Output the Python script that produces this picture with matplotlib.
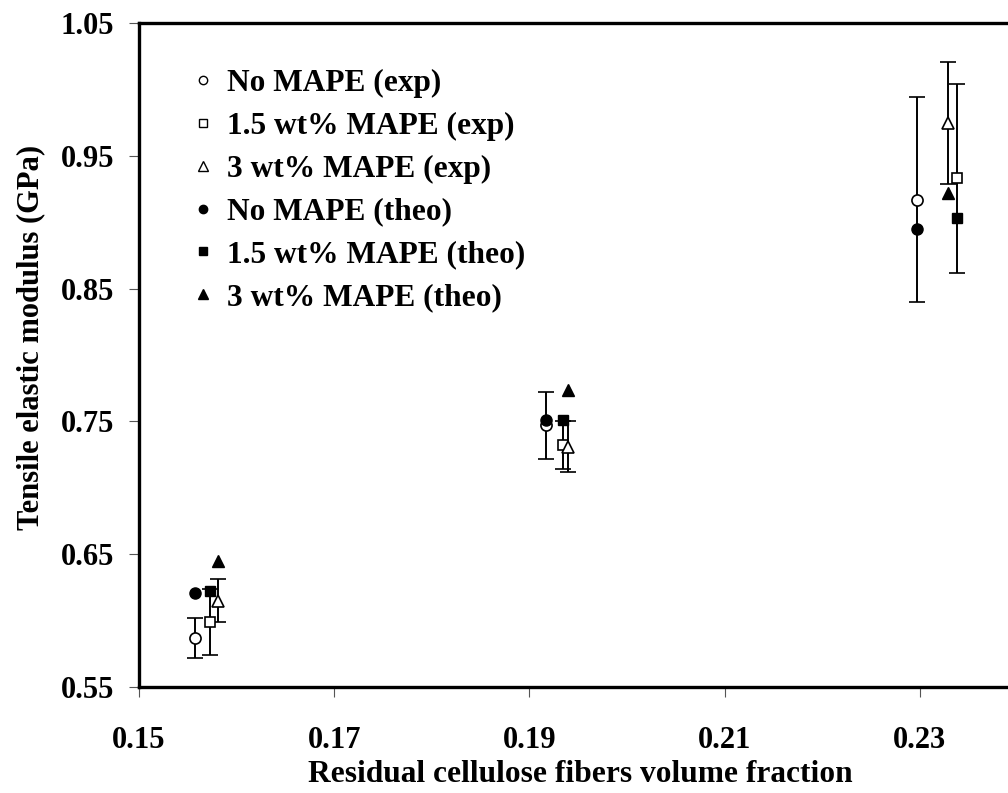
import matplotlib
matplotlib.use("Agg")
import matplotlib.pyplot as plt
from matplotlib.lines import Line2D

plt.rcParams['font.family'] = ['Liberation Serif', 'DejaVu Serif']
plt.rcParams['font.weight'] = 'bold'

# x positions (residual cellulose fibre volume fraction)
x_no = [0.1557, 0.1917, 0.2297]
x_15 = [0.1573, 0.1934, 0.2338]
x_3 = [0.1581, 0.1940, 0.2329]

# experimental values and error bars (GPa)
exp_no = [0.587, 0.747, 0.917]
err_no = [0.015, 0.025, 0.077]
exp_15 = [0.599, 0.732, 0.933]
err_15 = [0.025, 0.018, 0.071]
exp_3 = [0.615, 0.731, 0.975]
err_3 = [0.016, 0.019, 0.046]

# theoretical values (GPa)
theo_no = [0.621, 0.751, 0.895]
theo_15 = [0.622, 0.751, 0.903]
theo_3 = [0.645, 0.774, 0.922]

labels = ["No MAPE (exp)", "1.5 wt% MAPE (exp)", "3 wt% MAPE (exp)",
          "No MAPE (theo)", "1.5 wt% MAPE (theo)", "3 wt% MAPE (theo)"]
xticks = [0.15, 0.17, 0.19, 0.21, 0.23]
yticks = [0.55, 0.65, 0.75, 0.85, 0.95, 1.05]

W, H = 1008, 793
fig = plt.figure(figsize=(W / 100, H / 100), dpi=100)
left, right, top, bottom = 139, 139 + 976, 23, 687
aw, ah = right - left, bottom - top
ax = fig.add_axes([left / W, 1 - bottom / H, aw / W, ah / H])

ekw = dict(ecolor='black', elinewidth=1.4, capsize=5.6, capthick=1.4, linestyle='none',
           markeredgecolor='black', markerfacecolor='white', markeredgewidth=1.2, zorder=3)
ax.errorbar(x_no, exp_no, yerr=err_no, marker='o', markersize=8, **ekw)
ax.errorbar(x_15, exp_15, yerr=err_15, marker='s', markersize=7.5, **ekw)
ax.errorbar(x_3, exp_3, yerr=err_3, marker='^', markersize=9, **ekw)

tkw = dict(linestyle='none', color='black', zorder=4)
ax.plot(x_no, theo_no, marker='o', markersize=8, **tkw)
ax.plot(x_15, theo_15, marker='s', markersize=7.5, **tkw)
ax.plot(x_3, theo_3, marker='^', markersize=9, **tkw)

ax.set_xlim(0.15, 0.25)
ax.set_ylim(0.55, 1.05)
ax.set_xticks(xticks)
ax.set_yticks(yticks)
ax.set_xticklabels([f"{v:.2f}" for v in xticks])
ax.set_yticklabels([f"{v:.2f}" for v in yticks])
ax.tick_params(axis='both', direction='out', length=7, width=0.8, color='#555555',
               labelsize=22)
ax.tick_params(axis='x', pad=21)
ax.tick_params(axis='y', pad=11)
for s in ax.spines.values():
    s.set_linewidth(2.4)

ax.set_xlabel("Residual cellulose fibers volume fraction", fontsize=22.6, fontweight='bold')
ax.set_ylabel("Tensile elastic modulus (GPa)", fontsize=22, fontweight='bold')
ax.xaxis.set_label_coords((580 - left) / aw, (bottom - 760) / ah)
ax.yaxis.set_label_coords((45 - left) / aw, (bottom - 337) / ah)

mk = ['o', 's', '^', 'o', 's', '^']
fc = ['white', 'white', 'white', 'black', 'black', 'black']
handles = [Line2D([], [], linestyle='none', marker=m, markersize=6 if m != '^' else 6.5,
                  markerfacecolor=f, markeredgecolor='black', markeredgewidth=1.0)
           for m, f in zip(mk, fc)]
leg = ax.legend(handles, labels, loc='upper left', bbox_to_anchor=(194 / W, 1 - 69 / H),
                bbox_transform=fig.transFigure, frameon=False,
                handlelength=0.6, handletextpad=0.45, labelspacing=0.44, borderpad=0,
                borderaxespad=0, prop={'weight': 'bold', 'size': 22.6})

fig.savefig("out.png", dpi=100)
